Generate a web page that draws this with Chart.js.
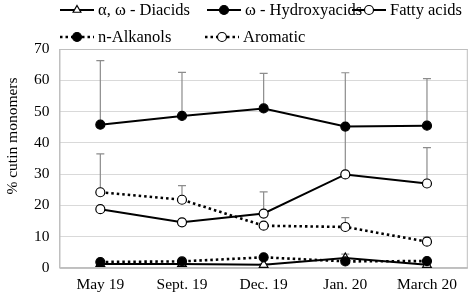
<!DOCTYPE html>
<html>
<head>
<meta charset="utf-8">
<script src="https://cdn.jsdelivr.net/npm/chart.js@4.4.1/dist/chart.umd.min.js"></script>
<style>
  body { margin: 0; background: #fff; }
  #wrap { position: relative; width: 474px; height: 297px; overflow: hidden; }
</style>
</head>
<body>
<div id="wrap">
  <canvas id="chart" width="474" height="301"></canvas>
</div>
<script>
const categories = ['May 19', 'Sept. 19', 'Dec. 19', 'Jan. 20', 'March 20'];
const diacids = [1.3, 1.3, 1.0, 3.2, 1.0];
const diacidsErr = [0.5, 0.6, 0.3, 1.2, 0.5];
const hydroxyacids = [45.8, 48.6, 51.0, 45.2, 45.5];
const hydroxyacidsErr = [20.5, 13.9, 11.2, 17.2, 15.0];
const fattyAcids = [18.8, 14.6, 17.4, 29.9, 27.0];
const fattyAcidsErr = [0, 0, 6.9, 15.3, 11.5];
const alkanols = [1.9, 2.1, 3.4, 2.1, 2.2];
const alkanolsErr = [0.4, 0.4, 0.4, 0.5, 0.5];
const aromatic = [24.2, 21.8, 13.5, 13.1, 8.4];
const aromaticErr = [12.3, 4.5, 0, 3.0, 1.5];
const yTicks = [0, 10, 20, 30, 40, 50, 60, 70];
const yTitle = '% cutin monomers';

// legend slots: [dataset label, left x, center y]
const legendSlots = [
    ['α, ω - Diacids', 60, 10],
    ['ω - Hydroxyacids', 207, 10],
    ['Fatty acids', 352, 10],
    ['n-Alkanols', 60, 37],
    ['Aromatic', 205, 37]
];

const errorBars = {
    id: 'errorBars',
    beforeDatasetsDraw(chart) {
        const ctx = chart.ctx;
        const x = chart.scales.x, y = chart.scales.y;
        ctx.save();
        ctx.strokeStyle = '#8c8c8c';
        ctx.lineWidth = 1.2;
        chart.data.datasets.forEach(ds => {
            ds.data.forEach((v, i) => {
                const e = ds.errors[i];
                if (!e) return;
                const px = x.getPixelForValue(i);
                const p0 = y.getPixelForValue(v);
                const p1 = y.getPixelForValue(v + e);
                ctx.beginPath();
                ctx.moveTo(px, p0);
                ctx.lineTo(px, p1);
                ctx.moveTo(px - 4, p1);
                ctx.lineTo(px + 4, p1);
                ctx.stroke();
            });
        });
        ctx.restore();
    }
};

const frame = {
    id: 'frame',
    afterDraw(chart) {
        const a = chart.chartArea, ctx = chart.ctx;
        ctx.save();
        ctx.strokeStyle = '#bfbfbf';
        ctx.lineWidth = 1;
        ctx.strokeRect(a.left + 0.5, a.top + 0.5, a.right - a.left - 1, a.bottom - a.top);
        // y axis title, sits a bit above the plot centre like the original
        ctx.translate(13, 136);
        ctx.rotate(-Math.PI / 2);
        ctx.font = '15.5px "Liberation Serif"';
        ctx.textAlign = 'center';
        ctx.textBaseline = 'middle';
        ctx.fillStyle = '#000';
        ctx.fillText(yTitle, 0, 0);
        ctx.restore();
    }
};

// two-row legend with line + marker, like the original
const twoRowLegend = {
    id: 'twoRowLegend',
    afterDraw(chart) {
        const ctx = chart.ctx;
        ctx.save();
        ctx.font = '16.5px "Liberation Serif"';
        ctx.textBaseline = 'middle';
        ctx.fillStyle = '#000';
        legendSlots.forEach(([label, lx, ly]) => {
            const ds = chart.data.datasets.find(d => d.label === label);
            ctx.strokeStyle = '#000';
            ctx.lineWidth = ds.borderWidth;
            ctx.setLineDash(ds.borderDash);
            ctx.beginPath();
            ctx.moveTo(lx, ly);
            ctx.lineTo(lx + 34, ly);
            ctx.stroke();
            ctx.setLineDash([]);
            ctx.lineWidth = 1.2;
            ctx.fillStyle = ds.pointBackgroundColor;
            Chart.helpers.drawPoint(ctx, { pointStyle: ds.pointStyle, radius: 4.5, borderWidth: 1.2, rotation: 0 }, lx + 17, ly);
            ctx.fillStyle = '#000';
            ctx.fillText(label, lx + 38, ly + 1);
        });
        ctx.restore();
    }
};

function series(label, data, errors, dotted, pointStyle, filled) {
    return {
        label: label,
        data: data,
        errors: errors,
        borderColor: '#000',
        borderWidth: dotted ? 2.6 : 2,
        borderDash: dotted ? [2.5, 3] : [],
        pointStyle: pointStyle,
        pointRadius: pointStyle === 'triangle' ? 5 : 4.5,
        pointBackgroundColor: filled ? '#000' : '#fff',
        pointBorderColor: '#000',
        pointBorderWidth: 1.2,
        tension: 0,
        fill: false
    };
}

const tickFont = { family: 'Liberation Serif', size: 15.5 };

new Chart(document.getElementById('chart'), {
    type: 'line',
    data: {
        labels: categories,
        datasets: [
            series('Aromatic', aromatic, aromaticErr, true, 'circle', false),
            series('n-Alkanols', alkanols, alkanolsErr, true, 'circle', true),
            series('Fatty acids', fattyAcids, fattyAcidsErr, false, 'circle', false),
            series('ω - Hydroxyacids', hydroxyacids, hydroxyacidsErr, false, 'circle', true),
            series('α, ω - Diacids', diacids, diacidsErr, false, 'triangle', false)
        ]
    },
    options: {
        responsive: false,
        animation: false,
        layout: { padding: { top: 49, right: 3, left: 24, bottom: 0 } },
        plugins: { legend: { display: false }, tooltip: { enabled: false } },
        scales: {
            x: {
                offset: true,
                grid: { display: false, drawTicks: false },
                border: { color: '#bfbfbf' },
                ticks: { color: '#000', font: Object.assign({ lineHeight: 1.1 }, tickFont), padding: 8 }
            },
            y: {
                min: 0,
                max: 70,
                afterBuildTicks: axis => { axis.ticks = yTicks.map(v => ({ value: v })); },
                grid: { color: '#d9d9d9', drawTicks: false },
                border: { color: '#bfbfbf' },
                ticks: { color: '#000', font: tickFont, padding: 10 }
            }
        }
    },
    plugins: [errorBars, frame, twoRowLegend]
});
</script>
</body>
</html>
